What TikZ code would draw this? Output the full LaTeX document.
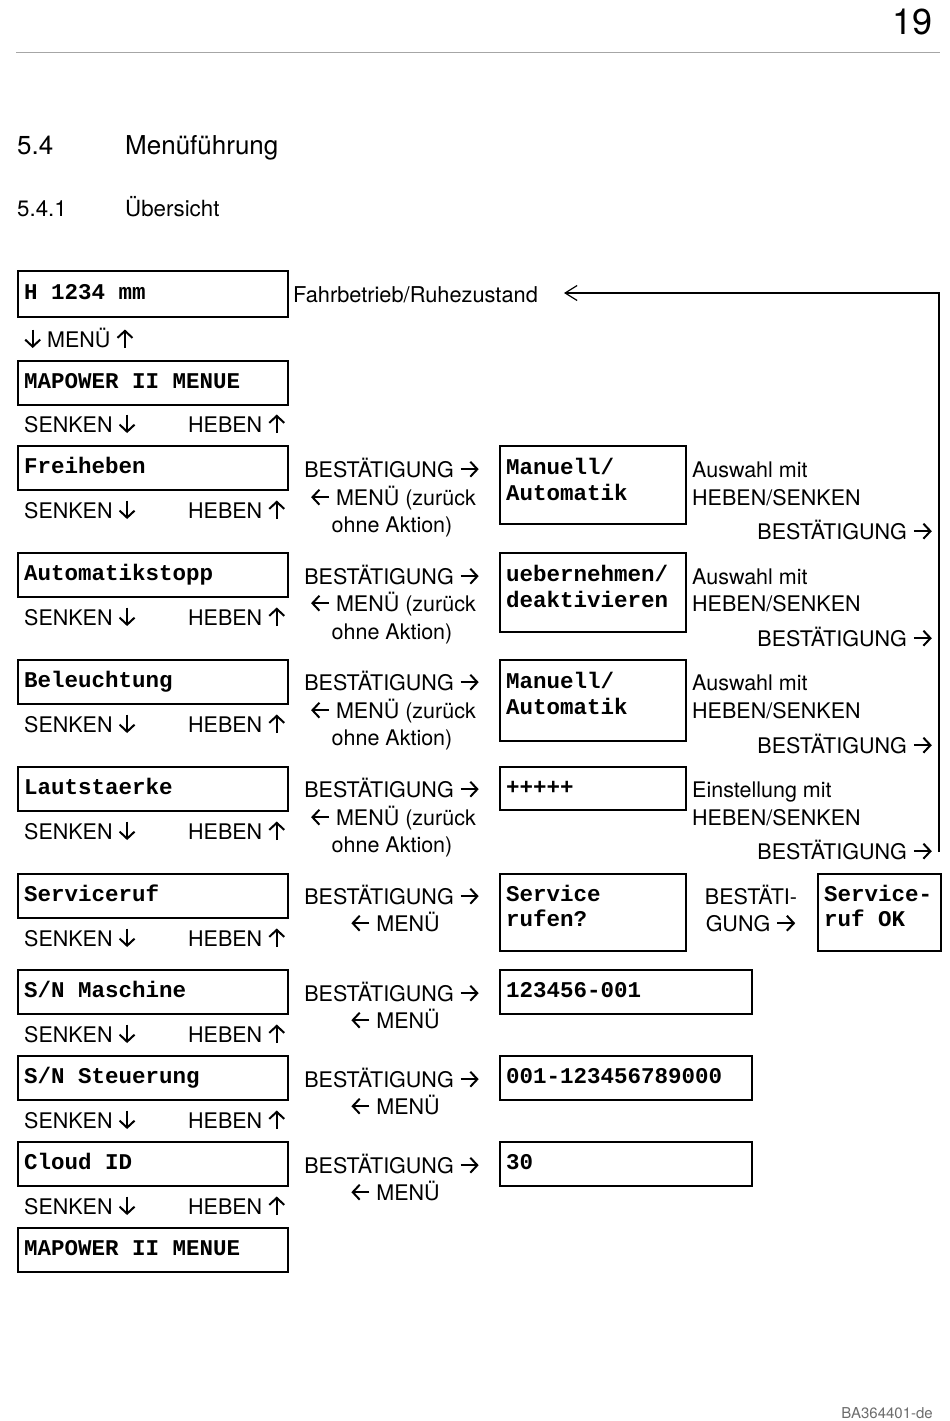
\documentclass[tikz,border=0pt]{standalone}
\usepackage{fontspec}
\setmainfont{TeX Gyre Heros}
\newfontfamily\monob{Liberation Mono}
\usetikzlibrary{arrows.meta,calc}
\tikzset{
  glyph/.style={x=1pt, y=1pt, line width=2pt, line cap=butt,
    -{Straight Barb[length=7pt,width=15pt,line width=2pt]}},
}
\newcommand\myra{\tikz[glyph, baseline=-7.8pt]\draw (0,0) -- (18,0);}
\newcommand\myla{\tikz[glyph, baseline=-7.8pt]\draw (18,0) -- (0,0);}
\newcommand\myua{\tikz[glyph, baseline=0pt]\draw (0,-1) -- (0,17.5);}
\newcommand\myda{\tikz[glyph, baseline=0pt]\draw (0,17.5) -- (0,-1);}
\tikzset{
  box/.style={draw, line width=1.8pt, inner sep=0pt, anchor=north west},
  lbox/.style={box, minimum width=270pt, minimum height=44pt},
  mt/.style={font=\monob\bfseries\fontsize{22.5}{26}\selectfont, inner sep=0pt, anchor=base west},
  st/.style={font=\fontsize{21.5}{27.5}\selectfont, inner sep=0pt, anchor=base west},
  stc/.style={st, anchor=base},
  ste/.style={st, anchor=base east},
  fback/.style={line width=1.2pt, -{Straight Barb[length=12pt,width=15pt,line width=1.2pt]}},
}
\begin{document}
\begin{tikzpicture}[x=1pt,y=-1pt]
\useasboundingbox (0,0) rectangle (950,1421);
% header
\node[font=\fontsize{36}{40}\selectfont, inner sep=0pt, anchor=base east] (pg) at (933,35) {19};
\draw[line width=1.5pt, gray!70] (16,52.5) coordinate (hl1) -- (940,52.5) coordinate (hl2);
\node[font=\fontsize{26}{30}\selectfont, inner sep=0pt, anchor=base west] (sec) at (17,154) {5.4};
\node[font=\fontsize{26}{30}\selectfont, inner sep=0pt, anchor=base west] (sect) at (125,154) {Menüführung};
\node[font=\fontsize{22.3}{26}\selectfont, inner sep=0pt, anchor=base west] (ssec) at (17,216) {5.4.1};
\node[font=\fontsize{22.3}{26}\selectfont, inner sep=0pt, anchor=base west] (ssect) at (125,216) {Übersicht};
\node[font=\fontsize{15}{18}\selectfont, text=gray!85!black, inner sep=0pt, anchor=base east] (foot) at (933,1418) {BA364401-de};

% left column boxes
\node[lbox, minimum height=46pt] (L0) at (17,270) {};
\node[mt] (L0t) at ($(L0.north west)+(7,29)$) {H 1234 mm};
\node[st, font=\fontsize{21.8}{27.5}\selectfont] (fahr) at (293,302) {Fahrbetrieb/Ruhezustand};
\node[st] (menu0) at (24,347) {\myda\ MENÜ \myua};
\node[lbox] (L1) at (17,360) {};
\node[mt] (L1t) at ($(L1.north west)+(7,28)$) {MAPOWER II MENUE};
\node[lbox] (L2) at (17,445) {};
\node[mt] (L2t) at ($(L2.north west)+(7,28)$) {Freiheben};
\node[lbox] (L3) at (17,552) {};
\node[mt] (L3t) at ($(L3.north west)+(7,28)$) {Automatikstopp};
\node[lbox] (L4) at (17,659) {};
\node[mt] (L4t) at ($(L4.north west)+(7,28)$) {Beleuchtung};
\node[lbox] (L5) at (17,766) {};
\node[mt] (L5t) at ($(L5.north west)+(7,28)$) {Lautstaerke};
\node[lbox] (L6) at (17,873) {};
\node[mt] (L6t) at ($(L6.north west)+(7,28)$) {Serviceruf};
\node[lbox] (L7) at (17,969) {};
\node[mt] (L7t) at ($(L7.north west)+(7,28)$) {S/N Maschine};
\node[lbox] (L8) at (17,1055) {};
\node[mt] (L8t) at ($(L8.north west)+(7,28)$) {S/N Steuerung};
\node[lbox] (L9) at (17,1141) {};
\node[mt] (L9t) at ($(L9.north west)+(7,28)$) {Cloud ID};
\node[lbox] (L10) at (17,1227) {};
\node[mt] (L10t) at ($(L10.north west)+(7,28)$) {MAPOWER II MENUE};

% SENKEN / HEBEN rows
\foreach \i/\y in {1/432,2/518,3/625,4/732,5/839,6/946,7/1042,8/1128,9/1214}{
  \node[st] (sk\i) at (24,\y) {SENKEN \myda};
  \node[st] (hb\i) at (188,\y) {HEBEN \myua};
}

% middle column
\foreach \i/\a/\b/\c in {2/477/505/532,3/584/611/639,4/690/718/745,5/797/825/852}{
  \node[stc] (ma\i) at (392,\a) {BESTÄTIGUNG \myra};
  \node[stc] (mb\i) at (393,\b) {\myla\ MENÜ (zurück};
  \node[stc] (mc\i) at (392,\c) {ohne Aktion)};
}
\foreach \i/\a/\b in {6/904/931,7/1001/1028,8/1087/1114,9/1173/1200}{
  \node[stc] (ma\i) at (392,\a) {BESTÄTIGUNG \myra};
  \node[stc] (mb\i) at (395,\b) {\myla\ MENÜ};
}

% right boxes
\node[box, minimum width=186pt, minimum height=78pt] (R2) at (499,445) {};
\node[mt] (R2a) at ($(R2.north west)+(7,29)$) {Manuell/};
\node[mt] (R2b) at ($(R2.north west)+(7,55)$) {Automatik};
\node[box, minimum width=186pt, minimum height=79pt] (R3) at (499,552) {};
\node[mt] (R3a) at ($(R3.north west)+(7,29)$) {uebernehmen/};
\node[mt] (R3b) at ($(R3.north west)+(7,55)$) {deaktivieren};
\node[box, minimum width=186pt, minimum height=81pt] (R4) at (499,659) {};
\node[mt] (R4a) at ($(R4.north west)+(7,29)$) {Manuell/};
\node[mt] (R4b) at ($(R4.north west)+(7,55)$) {Automatik};
\node[box, minimum width=186pt, minimum height=43pt] (R5) at (499,766) {};
\node[mt] (R5a) at ($(R5.north west)+(7,28)$) {+++++};
\node[box, minimum width=186pt, minimum height=77pt] (R6) at (499,873) {};
\node[mt] (R6a) at ($(R6.north west)+(7,28)$) {Service};
\node[mt] (R6b) at ($(R6.north west)+(7,53)$) {rufen?};
\node[box, minimum width=123pt, minimum height=77pt] (R6x) at (817,873) {};
\node[mt] (R6xa) at ($(R6x.north west)+(7,28)$) {Service-};
\node[mt] (R6xb) at ($(R6x.north west)+(7,53)$) {ruf OK};
\node[box, minimum width=252pt, minimum height=44pt] (R7) at (499,969) {};
\node[mt] (R7a) at ($(R7.north west)+(7,28)$) {123456-001};
\node[box, minimum width=252pt, minimum height=44pt] (R8) at (499,1055) {};
\node[mt] (R8a) at ($(R8.north west)+(7,28)$) {001-123456789000};
\node[box, minimum width=252pt, minimum height=44pt] (R9) at (499,1141) {};
\node[mt] (R9a) at ($(R9.north west)+(7,28)$) {30};

% right column texts
\foreach \i/\a/\b/\c in {2/477/505/539,3/584/611/646,4/690/718/753}{
  \node[st] (ta\i) at (692,\a) {Auswahl mit};
  \node[st] (tb\i) at (692,\b) {HEBEN/SENKEN};
  \node[ste] (tc\i) at (933,\c) {BESTÄTIGUNG \myra};
}
\node[st] (ta5) at (692,797) {Einstellung mit};
\node[st] (tb5) at (692,825) {HEBEN/SENKEN};
\node[ste] (tc5) at (933,859) {BESTÄTIGUNG \myra};
\node[stc] (bs1) at (751,904) {BESTÄTI-};
\node[stc] (bs2) at (751,931) {GUNG \myra};

% feedback line back to Fahrbetrieb
\coordinate (fbend) at (939,852);
\coordinate (fbtip) at (564,293);
\draw[fback] (fbend) |- (fbtip);
\end{tikzpicture}
\end{document}
